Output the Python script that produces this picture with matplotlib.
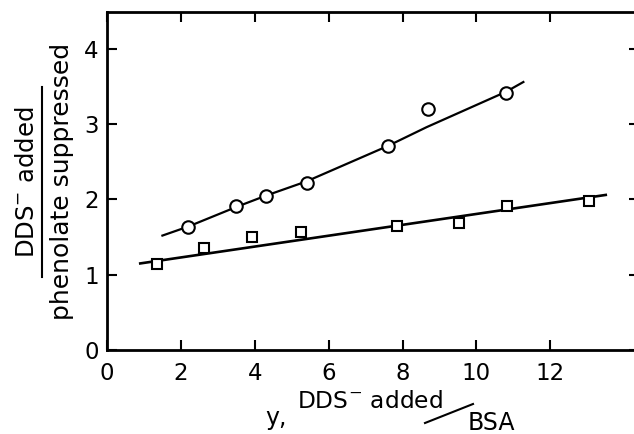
import matplotlib
matplotlib.use("Agg")
import matplotlib.pyplot as plt
from matplotlib.lines import Line2D

# Data: ratio of DDS- added to phenolate suppressed vs. y (DDS- added / BSA)
circle_x = [2.2, 3.5, 4.3, 5.4, 7.6, 8.7, 10.8]
circle_y = [1.64, 1.91, 2.05, 2.22, 2.71, 3.20, 3.42]

square_x = [1.35, 2.62, 3.92, 5.24, 7.86, 9.54, 10.84, 13.05]
square_y = [1.14, 1.35, 1.50, 1.57, 1.65, 1.69, 1.91, 1.98]

# Hand-drawn curves through the two series
circle_fit_x = [1.5, 2.2, 3.5, 4.3, 5.4, 7.6, 8.65, 10.8, 11.27]
circle_fit_y = [1.52, 1.64, 1.90, 2.05, 2.24, 2.71, 2.96, 3.43, 3.56]

square_fit_x = [0.9, 13.5]
square_fit_y = [1.15, 2.06]

x_ticks = [0, 2, 4, 6, 8, 10, 12]
y_ticks = [0, 1, 2, 3, 4]

plt.rcParams['font.family'] = ['DejaVu Sans']

fig = plt.figure(figsize=(6.34, 4.34), dpi=100)
ax = fig.add_axes([107 / 634, 84 / 434, 532 / 634, 338 / 434])

ax.plot(circle_fit_x, circle_fit_y, color='black', lw=1.6)
ax.plot(square_fit_x, square_fit_y, color='black', lw=1.9)
ax.plot(circle_x, circle_y, 'o', ms=9, mfc='white', mec='black', mew=1.5)
ax.plot(square_x, square_y, 's', ms=7, mfc='white', mec='black', mew=1.5)

ax.set_xlim(0, 14.4)
ax.set_ylim(0, 4.49)
ax.set_xticks(x_ticks)
ax.set_yticks(y_ticks)
ax.tick_params(direction='in', length=7, width=1.5, top=True, right=True,
               labelsize=16.5)
ax.tick_params(axis='x', pad=9)
ax.tick_params(axis='y', pad=6)
for s in ax.spines.values():
    s.set_linewidth(2.0)

# y-axis label as a fraction
fig.text(27 / 634, 1 - 182 / 434, 'DDS$^{-}$ added', rotation=90,
         ha='center', va='center', fontsize=17.5)
fig.text(62 / 634, 1 - 181 / 434, 'phenolate suppressed', rotation=90,
         ha='center', va='center', fontsize=18)
fig.add_artist(Line2D([42 / 634, 42 / 634], [1 - 87 / 434, 1 - 277 / 434],
                      color='black', lw=1.5, transform=fig.transFigure))

# x-axis label
fig.text(276 / 634, 1 - 425 / 434, 'y,', ha='center', va='baseline',
         fontsize=17)
fig.text(370 / 634, 1 - 408 / 434, 'DDS$^{-}$ added', ha='center',
         va='baseline', fontsize=16.8)
fig.add_artist(Line2D([425 / 634, 473 / 634], [1 - 423 / 434, 1 - 404 / 434],
                      color='black', lw=1.5, transform=fig.transFigure))
fig.text(491 / 634, 1 - 430 / 434, 'BSA', ha='center', va='baseline',
         fontsize=17)

fig.savefig('out.png', dpi=100)
